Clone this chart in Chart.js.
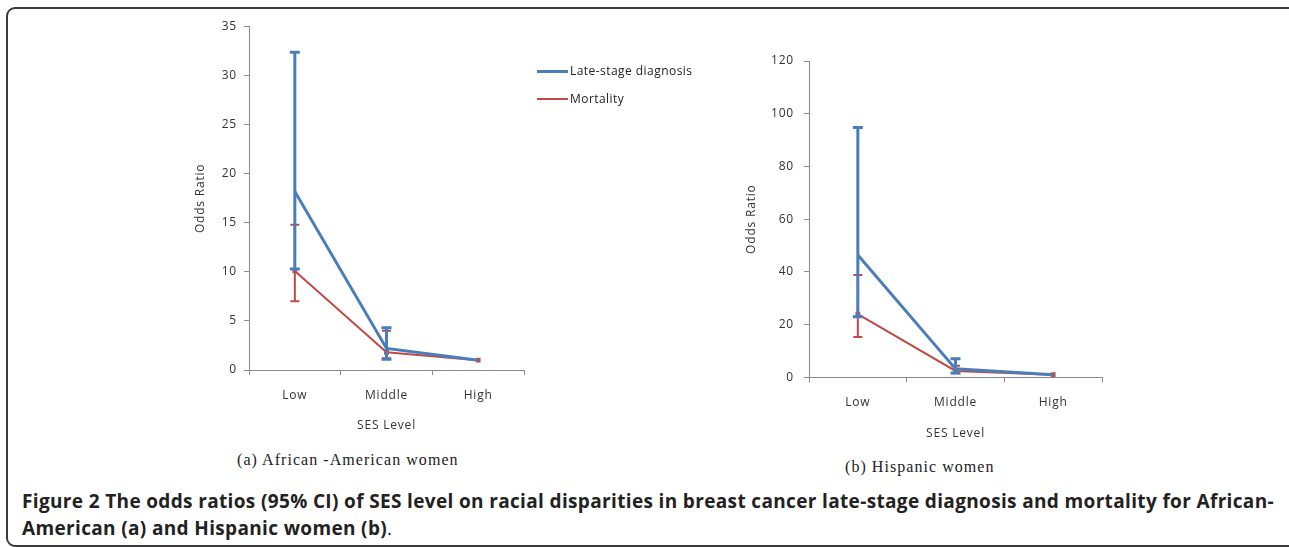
<!DOCTYPE html>
<html>
<head>
<meta charset="utf-8">
<script src="https://cdn.jsdelivr.net/npm/chart.js@4.4.0/dist/chart.umd.min.js"></script>
<style>
    body { margin: 0; background: #fff; }
    #page { position: relative; width: 1289px; height: 547px; overflow: hidden; }
    #frame { position: absolute; left: 6px; top: 7px; width: 1310px; height: 536px; border: 2px solid #3a3a3a; border-radius: 9px; }
    canvas { position: absolute; }
    #chart-a { left: 180px; top: 10px; }
    #chart-b { left: 740px; top: 40px; }
    .sub { position: absolute; font-family: "Liberation Serif", serif; font-size: 16px; color: #222; white-space: nowrap; letter-spacing: 1.05px; }
    #legend { position: absolute; left: 537px; top: 62px; font-family: "Open Sans", sans-serif; font-size: 12px; color: #222; letter-spacing: 0.45px; }
    .legend-item { position: relative; height: 28px; }
    .legend-line { position: absolute; left: 0; top: 8px; width: 31px; }
    .legend-text { position: absolute; left: 33px; top: 0; line-height: 18px; white-space: nowrap; }
    #caption { position: absolute; left: 22px; top: 488px; font-family: "Open Sans", sans-serif; font-weight: bold; font-size: 19px; letter-spacing: 0.35px; line-height: 27px; color: #222; white-space: nowrap; }
    #caption .dot { font-weight: normal; }
</style>
</head>
<body>
<div id="page">
    <div id="frame"></div>
    <canvas id="chart-a" width="360" height="430"></canvas>
    <canvas id="chart-b" width="380" height="410"></canvas>
    <div id="legend"></div>
    <div class="sub" id="sub-a" style="left:237px; top:451px;">(a) African -American women</div>
    <div class="sub" id="sub-b" style="left:845px; top:458px;">(b) Hispanic women</div>
    <div id="caption">Figure 2 The odds ratios (95% CI) of SES level on racial disparities in breast cancer late-stage diagnosis and mortality for African-<br>American (a) and Hispanic women (b)<span class="dot">.</span></div>
</div>
<script>
const categories = ['Low', 'Middle', 'High'];
const seriesNames = ['Late-stage diagnosis', 'Mortality'];
const seriesColors = ['#4a7ebb', '#be4b48'];

// (a) African-American women
const aaLate = [18.2, 2.2, 1.0];
const aaLateLow = [10.3, 1.1, null];
const aaLateHigh = [32.4, 4.3, null];
const aaMort = [10.1, 1.8, 1.0];
const aaMortLow = [7.0, 1.2, null];
const aaMortHigh = [14.8, 4.0, null];
const aaTicks = [0, 5, 10, 15, 20, 25, 30, 35];

// (b) Hispanic women
const hiLate = [46.4, 3.2, 1.0];
const hiLateLow = [23.0, 1.6, null];
const hiLateHigh = [94.8, 7.0, null];
const hiMort = [24.0, 2.4, 1.0];
const hiMortLow = [15.3, 1.5, null];
const hiMortHigh = [38.8, 4.4, null];
const hiTicks = [0, 20, 40, 60, 80, 100, 120];

const axisColor = '#8a8a8a';
const textColor = '#333';
const tickFont = { family: 'Open Sans', size: 12 };

// a bit of tracking on the canvas text, the original labels are rather loose
const spacing = {
    id: 'spacing',
    beforeDraw(chart) { chart.ctx.letterSpacing = '0.8px'; }
};

// draws the 95% CI whiskers of each dataset right after the dataset itself
const errorBars = {
    id: 'errorBars',
    afterDatasetDraw(chart, args) {
        const ds = chart.data.datasets[args.index];
        if (!ds.ciLow) return;
        const ctx = chart.ctx;
        const x = chart.scales.x, y = chart.scales.y;
        ctx.save();
        ctx.strokeStyle = ds.borderColor;
        ctx.lineWidth = ds.borderWidth;
        ds.ciLow.forEach((lo, i) => {
            const hi = ds.ciHigh[i];
            if (lo == null || hi == null) return;
            const px = x.getPixelForValue(i);
            const yl = y.getPixelForValue(lo), yh = y.getPixelForValue(hi);
            const w = ds.capWidth / 2;
            ctx.beginPath();
            ctx.moveTo(px, yl); ctx.lineTo(px, yh);
            ctx.moveTo(px - w, yl); ctx.lineTo(px + w, yl);
            ctx.moveTo(px - w, yh); ctx.lineTo(px + w, yh);
            ctx.stroke();
        });
        ctx.restore();
    }
};

function makeChart(canvas, late, lateLow, lateHigh, mort, mortLow, mortHigh, ticks, g) {
    return new Chart(canvas, {
        type: 'line',
        data: {
            labels: categories,
            datasets: [{
                label: seriesNames[0],
                data: late,
                ciLow: lateLow,
                ciHigh: lateHigh,
                capWidth: 10,
                borderColor: seriesColors[0],
                backgroundColor: seriesColors[0],
                borderWidth: 3,
                pointRadius: 0,
                tension: 0
            }, {
                label: seriesNames[1],
                data: mort,
                ciLow: mortLow,
                ciHigh: mortHigh,
                capWidth: 9,
                borderColor: seriesColors[1],
                backgroundColor: seriesColors[1],
                borderWidth: 2,
                pointStyle: 'rect',
                pointRadius: 2,
                tension: 0
            }]
        },
        options: {
            responsive: false,
            animation: false,
            layout: { padding: { left: 0, right: g.right, top: g.top, bottom: 0 } },
            plugins: {
                legend: { display: false },
                tooltip: { enabled: false }
            },
            scales: {
                x: {
                    type: 'category',
                    offset: true,
                    grid: { offset: true, drawOnChartArea: false, drawTicks: true, tickLength: 5, color: axisColor },
                    border: { display: true, color: axisColor, width: 1 },
                    ticks: { color: textColor, font: tickFont, padding: g.xPad, maxRotation: 0 },
                    title: { display: true, text: 'SES Level', color: textColor, font: tickFont, padding: { top: 0, bottom: g.xTitle } },
                    afterFit: (s) => { s.height = g.xHeight; }
                },
                y: {
                    min: ticks[0],
                    max: ticks[ticks.length - 1],
                    afterBuildTicks: (s) => { s.ticks = ticks.map(v => ({ value: v })); },
                    grid: { drawOnChartArea: false, drawTicks: true, tickLength: 5, color: axisColor },
                    border: { display: true, color: axisColor, width: 1 },
                    ticks: { color: textColor, font: tickFont, padding: g.yPad },
                    title: { display: true, text: 'Odds Ratio', color: textColor, font: tickFont, padding: { top: g.yTitle, bottom: 0 } },
                    afterFit: (s) => { s.width = 69; }
                }
            }
        },
        plugins: [spacing, errorBars]
    });
}

function buildLegend() {
    const box = document.querySelector('#legend');
    seriesNames.forEach((name, i) => {
        const item = document.createElement('div');
        item.className = 'legend-item';
        const line = document.createElement('div');
        line.className = 'legend-line';
        line.style.borderTop = (i === 0 ? 3 : 2) + 'px solid ' + seriesColors[i];
        const text = document.createElement('div');
        text.className = 'legend-text';
        text.textContent = name;
        item.appendChild(line);
        item.appendChild(text);
        box.appendChild(item);
    });
}

makeChart(document.querySelector('#chart-a'), aaLate, aaLateLow, aaLateHigh, aaMort, aaMortLow, aaMortHigh, aaTicks,
    { right: 16, top: 16.7, xHeight: 70, xPad: 13, xTitle: 6.8, yPad: 7, yTitle: 13.8 });
makeChart(document.querySelector('#chart-b'), hiLate, hiLateLow, hiLateHigh, hiMort, hiMortLow, hiMortHigh, hiTicks,
    { right: 18, top: 21, xHeight: 72.7, xPad: 13, xTitle: 8.8, yPad: 10, yTitle: 4.8 });
buildLegend();
</script>
</body>
</html>
